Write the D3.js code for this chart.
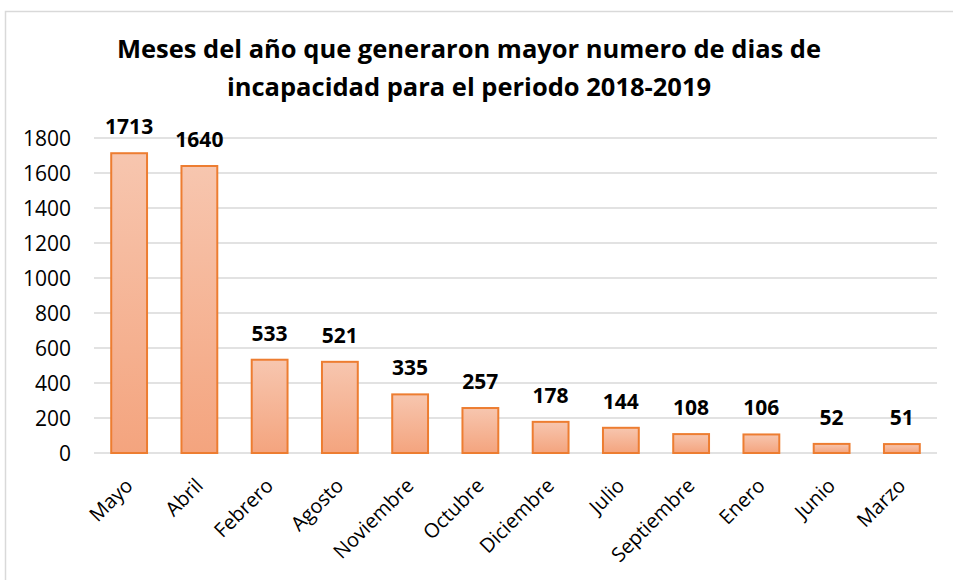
<!DOCTYPE html>
<html lang="es">
<head>
    <meta charset="UTF-8">
    <title>Meses del año que generaron mayor numero de dias de incapacidad</title>
    <script src="https://d3js.org/d3.v7.min.js"></script>
    <style>
        body { margin: 0; background: #fff; }
        text { font-family: "Open Sans", sans-serif; fill: #000; }
        .grid line { stroke: #d9d9d9; stroke-width: 1.5; }
        .bar { stroke: #ed7d31; stroke-width: 2; fill: url(#barGrad); }
    </style>
</head>
<body>
<svg height="580" width="953"></svg>

<script>
    const months = ["Mayo", "Abril", "Febrero", "Agosto", "Noviembre", "Octubre",
                    "Diciembre", "Julio", "Septiembre", "Enero", "Junio", "Marzo"];
    const days = [1713, 1640, 533, 521, 335, 257, 178, 144, 108, 106, 52, 51];
    const yTicks = [0, 200, 400, 600, 800, 1000, 1200, 1400, 1600, 1800];
    const titleLines = ["Meses del año que generaron mayor numero de dias de",
                        "incapacidad para el periodo 2018-2019"];

    const svg = d3.select("svg");

    // chart frame
    svg.append("rect")
        .attr("x", 5.5).attr("y", 11.5)
        .attr("width", 960).attr("height", 600)
        .attr("fill", "none").attr("stroke", "#d9d9d9").attr("stroke-width", 1.5);

    const grad = svg.append("defs").append("linearGradient")
        .attr("id", "barGrad").attr("x1", 0).attr("y1", 0).attr("x2", 0).attr("y2", 1);
    grad.append("stop").attr("offset", "0%").attr("stop-color", "#f7c6af");
    grad.append("stop").attr("offset", "100%").attr("stop-color", "#f4a47e");

    const x = d3.scaleBand()
        .domain(months)
        .range([94, 937])
        .paddingInner(0.49)
        .paddingOuter(0.245);

    const y = d3.scaleLinear()
        .domain([0, 1800])
        .range([453, 138]);

    svg.append("g").attr("class", "grid")
        .selectAll("line")
        .data(yTicks)
        .enter().append("line")
        .attr("x1", 94).attr("x2", 937)
        .attr("y1", d => y(d)).attr("y2", d => y(d));

    svg.append("g")
        .selectAll("text")
        .data(yTicks)
        .enter().append("text")
        .attr("x", 71)
        .attr("y", d => y(d))
        .attr("dy", "0.36em")
        .attr("text-anchor", "end")
        .style("font-size", "21px")
        .text(d => d);

    svg.append("g")
        .selectAll("rect")
        .data(days)
        .enter().append("rect")
        .attr("class", "bar")
        .attr("x", (d, i) => x(months[i]))
        .attr("width", x.bandwidth())
        .attr("y", d => y(d))
        .attr("height", d => y(0) - y(d));

    svg.append("g")
        .selectAll("text")
        .data(days)
        .enter().append("text")
        .attr("x", (d, i) => x(months[i]) + x.bandwidth() / 2)
        .attr("y", d => y(d) - 19)
        .attr("text-anchor", "middle")
        .style("font-size", "21px")
        .style("font-weight", "bold")
        .text(d => d);

    // rotated month labels
    svg.append("g")
        .selectAll("text")
        .data(months)
        .enter().append("text")
        .attr("text-anchor", "end")
        .attr("transform", d => `translate(${x(d) + x.bandwidth() / 2 - 5},${y(0) + 24}) rotate(-45)`)
        .attr("dy", "0.7em")
        .style("font-size", "20px")
        .text(d => d);

    svg.append("g")
        .selectAll("text")
        .data(titleLines)
        .enter().append("text")
        .attr("x", 469)
        .attr("y", (d, i) => 58 + i * 38)
        .attr("text-anchor", "middle")
        .style("font-size", "25.5px")
        .style("font-weight", "bold")
        .text(d => d);
</script>

</body>
</html>
